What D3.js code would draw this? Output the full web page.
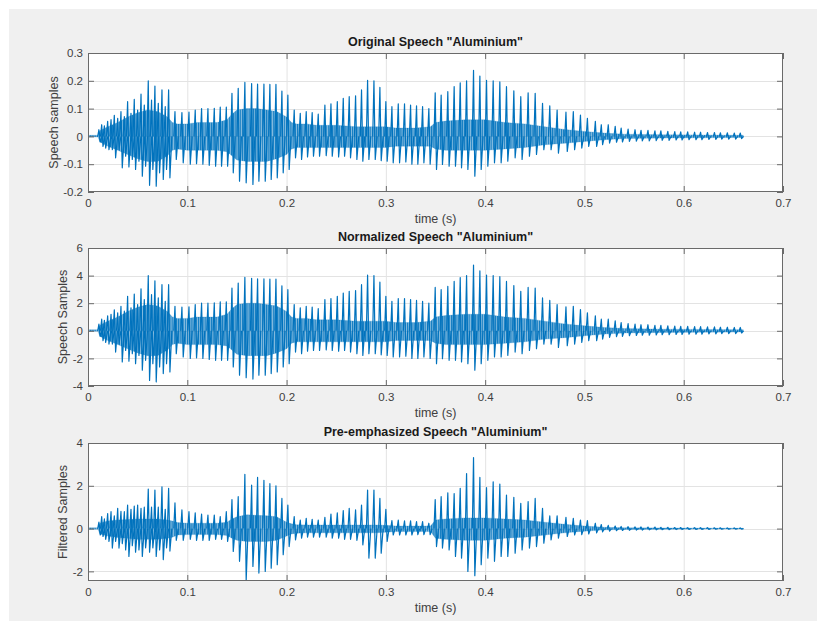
<!DOCTYPE html>
<html><head><meta charset="utf-8">
<script src="https://cdn.jsdelivr.net/npm/d3@7"></script>
<style>body{margin:0;background:#fff;} svg{display:block;font-family:"Liberation Sans",Arial,Helvetica,sans-serif;}</style>
</head><body><svg id="c" width="817" height="621"></svg>
<script>
// ---------------- DATA ----------------
const xTicks = [0, 0.1, 0.2, 0.3, 0.4, 0.5, 0.6, 0.7];
const titles = ['Original Speech "Aluminium"', 'Normalized Speech "Aluminium"', 'Pre-emphasized Speech "Aluminium"'];
const yLabels = ['Speech samples', 'Speech Samples', 'Filtered Samples'];
const xLabel = 'time (s)';
const yTicks1 = [-0.2, -0.1, 0, 0.1, 0.2, 0.3];
const yTicks2 = [-4, -2, 0, 2, 4, 6];
const yTicks3 = [-2, 0, 2, 4];
const yDomain1 = [-0.2, 0.3];
const yDomain2 = [-4, 6];
const yDomain3 = [-2.45, 4];

// pitch pulse times (s)
const pulseTimes = [
0.011,0.0138,0.0165,0.0198,0.0232,0.0265,0.0299,0.0332,0.0366,0.0399,
0.0433,0.0466,0.05,0.0534,0.0567,0.0607,0.064,0.0674,0.0708,0.0745,
0.0778,0.0812,0.0876,0.0946,0.1017,0.108,0.1144,0.1208,0.1272,0.1332,
0.1393,0.145,0.1513,0.158,0.1648,0.1708,0.1772,0.1832,0.1893,0.1953,
0.2013,0.2077,0.2138,0.2198,0.2258,0.2319,0.2386,0.2447,0.2511,0.2571,
0.2631,0.2695,0.2755,0.2816,0.288,0.294,0.300,0.3061,0.3125,0.3188,
0.3249,0.3309,0.337,0.3433,0.3497,0.3557,0.3624,0.3688,0.3749,0.3813,
0.3883,0.3947,0.4014,0.4081,0.4148,0.4215,0.4289,0.4359,0.4433,0.4504,
0.4578,0.4651,0.4725,0.4814,0.4888,0.496,0.503,0.511,0.517,0.524,
0.531,0.537,0.544,0.551,0.557,0.564,0.571,0.577,0.584,0.591,
0.597,0.604,0.611,0.617,0.624,0.631,0.637,0.644,0.651,0.657];

// original speech: peak values per pulse
const peakMax1 = [
0.024,0.042,0.038,0.054,0.060,0.076,0.065,0.089,0.071,0.125,
0.083,0.133,0.095,0.152,0.113,0.200,0.131,0.181,0.119,0.167,
0.107,0.167,0.089,0.086,0.087,0.095,0.100,0.100,0.101,0.105,
0.105,0.155,0.173,0.194,0.190,0.188,0.188,0.187,0.187,0.163,
0.149,0.095,0.083,0.089,0.086,0.080,0.113,0.117,0.125,0.137,
0.143,0.146,0.167,0.202,0.200,0.176,0.125,0.107,0.117,0.117,
0.113,0.110,0.107,0.100,0.157,0.149,0.161,0.179,0.193,0.200,
0.238,0.217,0.202,0.200,0.196,0.179,0.164,0.143,0.157,0.155,
0.119,0.110,0.095,0.087,0.089,0.077,0.065,0.054,0.042,0.042,
0.036,0.030,0.026,0.024,0.022,0.022,0.020,0.020,0.018,0.017,
0.016,0.016,0.015,0.015,0.014,0.014,0.013,0.013,0.012,0.012];
const peakMin1 = [
-0.020,-0.036,-0.042,-0.048,-0.048,-0.077,-0.048,-0.113,-0.071,-0.110,
-0.083,-0.119,-0.089,-0.143,-0.107,-0.176,-0.119,-0.179,-0.131,-0.155,
-0.119,-0.149,-0.083,-0.095,-0.100,-0.098,-0.100,-0.104,-0.107,-0.107,
-0.107,-0.131,-0.161,-0.167,-0.173,-0.161,-0.161,-0.155,-0.149,-0.131,
-0.119,-0.077,-0.083,-0.074,-0.071,-0.071,-0.069,-0.071,-0.074,-0.071,
-0.077,-0.083,-0.089,-0.083,-0.083,-0.087,-0.089,-0.095,-0.095,-0.092,
-0.100,-0.100,-0.095,-0.100,-0.119,-0.101,-0.107,-0.107,-0.113,-0.119,
-0.143,-0.119,-0.107,-0.095,-0.095,-0.089,-0.077,-0.083,-0.071,-0.065,
-0.048,-0.048,-0.060,-0.054,-0.048,-0.042,-0.036,-0.036,-0.030,-0.024,
-0.021,-0.020,-0.018,-0.017,-0.016,-0.016,-0.015,-0.014,-0.014,-0.013,
-0.013,-0.012,-0.012,-0.012,-0.011,-0.011,-0.010,-0.010,-0.010,-0.008];

// normalized speech
const peakMax2 = [
0.48,0.84,0.76,1.08,1.20,1.52,1.30,1.78,1.42,2.50,
1.66,2.66,1.90,3.04,2.26,4.00,2.62,3.62,2.38,3.34,
2.14,3.34,1.78,1.72,1.74,1.90,2.00,2.00,2.02,2.10,
2.10,3.10,3.46,3.88,3.80,3.76,3.76,3.74,3.74,3.26,
2.98,1.90,1.66,1.78,1.72,1.60,2.26,2.34,2.50,2.74,
2.86,2.92,3.34,4.04,4.00,3.52,2.50,2.14,2.34,2.34,
2.26,2.20,2.14,2.00,3.14,2.98,3.22,3.58,3.86,4.00,
4.76,4.34,4.04,4.00,3.92,3.58,3.28,2.86,3.14,3.10,
2.38,2.20,1.90,1.74,1.78,1.54,1.30,1.08,0.84,0.84,
0.72,0.60,0.52,0.48,0.44,0.44,0.40,0.40,0.36,0.34,
0.32,0.32,0.30,0.30,0.28,0.28,0.26,0.26,0.24,0.24];
const peakMin2 = [
-0.40,-0.72,-0.84,-0.96,-0.96,-1.54,-0.96,-2.26,-1.42,-2.20,
-1.66,-2.38,-1.78,-2.86,-2.14,-3.60,-2.38,-3.70,-2.62,-3.10,
-2.38,-2.98,-1.66,-1.90,-2.00,-1.96,-2.00,-2.08,-2.14,-2.14,
-2.14,-2.62,-3.22,-3.40,-3.50,-3.22,-3.22,-3.10,-2.98,-2.62,
-2.38,-1.54,-1.66,-1.48,-1.42,-1.42,-1.38,-1.42,-1.48,-1.42,
-1.54,-1.66,-1.78,-1.66,-1.66,-1.74,-1.78,-1.90,-1.90,-1.84,
-2.00,-2.00,-1.90,-2.00,-2.38,-2.02,-2.14,-2.14,-2.26,-2.38,
-2.86,-2.38,-2.14,-1.90,-1.90,-1.78,-1.54,-1.66,-1.42,-1.30,
-0.96,-0.96,-1.20,-1.08,-0.96,-0.84,-0.72,-0.72,-0.60,-0.48,
-0.42,-0.40,-0.36,-0.34,-0.32,-0.32,-0.30,-0.28,-0.28,-0.26,
-0.26,-0.24,-0.24,-0.24,-0.22,-0.22,-0.20,-0.20,-0.20,-0.16];

// pre-emphasized speech
const peakMax3 = [
0.30,0.56,0.45,0.70,0.79,0.60,0.95,0.80,0.79,1.10,
0.90,1.05,1.10,0.95,1.00,1.85,1.00,1.80,1.00,1.95,
0.90,1.88,1.20,0.87,0.79,0.74,0.68,0.63,0.63,0.56,
0.79,1.36,1.49,2.54,2.03,2.39,2.26,2.10,2.00,1.41,
1.10,0.56,0.40,0.48,0.43,0.40,0.53,0.68,0.74,0.84,
0.95,0.87,1.10,1.80,1.80,1.41,0.90,0.37,0.40,0.36,
0.36,0.33,0.33,0.25,1.36,1.49,1.67,1.64,1.88,2.57,
3.32,2.39,1.91,2.19,2.08,1.57,1.46,1.18,1.26,1.41,
0.95,0.59,0.60,0.53,0.48,0.40,0.37,0.25,0.19,0.15,
0.12,0.10,0.09,0.08,0.08,0.07,0.07,0.06,0.06,0.05,
0.05,0.045,0.045,0.04,0.04,0.035,0.035,0.03,0.03,0.03];
const peakMin3 = [
-0.30,-0.37,-0.50,-0.60,-0.91,-0.60,-0.91,-0.70,-1.00,-1.30,
-0.80,-1.10,-1.00,-1.30,-0.90,-1.10,-0.90,-1.30,-1.00,-1.45,
-0.90,-1.05,-0.55,-0.55,-0.50,-0.55,-0.55,-0.55,-0.50,-0.50,
-0.60,-1.07,-1.53,-2.44,-1.77,-2.08,-2.00,-1.85,-1.69,-1.22,
-0.84,-0.53,-0.45,-0.40,-0.40,-0.40,-0.40,-0.45,-0.45,-0.50,
-0.50,-0.55,-0.76,-1.38,-1.38,-1.15,-0.60,-0.30,-0.30,-0.30,
-0.30,-0.28,-0.28,-0.28,-0.84,-0.91,-1.00,-1.30,-1.38,-2.00,
-2.20,-1.69,-1.38,-1.53,-1.30,-1.30,-1.15,-1.00,-0.91,-0.84,
-0.68,-0.53,-0.45,-0.37,-0.30,-0.28,-0.25,-0.20,-0.15,-0.12,
-0.10,-0.09,-0.08,-0.07,-0.07,-0.06,-0.06,-0.05,-0.05,-0.045,
-0.045,-0.04,-0.04,-0.035,-0.035,-0.03,-0.03,-0.03,-0.025,-0.025];

// dense inner band of the waveform (between pulses)
const bandTimes = [
0,0.010,0.012,0.02,0.03,0.04,0.05,0.06,0.07,0.08,
0.085,0.09,0.10,0.11,0.12,0.13,0.14,0.145,0.15,0.16,
0.17,0.18,0.19,0.20,0.205,0.21,0.22,0.23,0.25,0.27,
0.29,0.30,0.31,0.33,0.345,0.35,0.36,0.38,0.40,0.42,
0.44,0.46,0.48,0.50,0.52,0.54,0.58,0.62,0.66];
const bandHi1 = [
0.004,0.004,0.02,0.035,0.05,0.07,0.085,0.095,0.09,0.07,
0.05,0.045,0.045,0.05,0.05,0.05,0.06,0.08,0.095,0.10,
0.10,0.095,0.09,0.07,0.05,0.045,0.045,0.04,0.04,0.035,
0.035,0.035,0.03,0.03,0.035,0.05,0.055,0.06,0.06,0.05,
0.045,0.035,0.025,0.018,0.012,0.008,0.006,0.005,0.004];
const bandLo1 = [
-0.002,-0.002,-0.02,-0.035,-0.05,-0.065,-0.08,-0.09,-0.09,-0.07,
-0.05,-0.045,-0.05,-0.05,-0.05,-0.05,-0.055,-0.07,-0.085,-0.09,
-0.09,-0.09,-0.08,-0.065,-0.045,-0.04,-0.04,-0.04,-0.04,-0.04,
-0.04,-0.04,-0.035,-0.035,-0.035,-0.045,-0.05,-0.05,-0.05,-0.045,
-0.04,-0.03,-0.025,-0.018,-0.012,-0.008,-0.006,-0.005,-0.004];
const bandHi2 = [
0.08,0.08,0.4,0.7,1.0,1.4,1.7,1.9,1.8,1.4,
1.0,0.9,0.9,1.0,1.0,1.0,1.2,1.6,1.9,2.0,
2.0,1.9,1.8,1.4,1.0,0.9,0.9,0.8,0.8,0.7,
0.7,0.7,0.6,0.6,0.7,1.0,1.1,1.2,1.2,1.0,
0.9,0.7,0.5,0.36,0.24,0.16,0.12,0.1,0.08];
const bandLo2 = [
-0.04,-0.04,-0.4,-0.7,-1.0,-1.3,-1.6,-1.8,-1.8,-1.4,
-1.0,-0.9,-1.0,-1.0,-1.0,-1.0,-1.1,-1.4,-1.7,-1.8,
-1.8,-1.8,-1.6,-1.3,-0.9,-0.8,-0.8,-0.8,-0.8,-0.8,
-0.8,-0.8,-0.7,-0.7,-0.7,-0.9,-1.0,-1.0,-1.0,-0.9,
-0.8,-0.6,-0.5,-0.36,-0.24,-0.16,-0.12,-0.1,-0.08];
const bandHi3 = [
0.04,0.04,0.25,0.35,0.40,0.42,0.45,0.45,0.45,0.40,
0.35,0.28,0.25,0.25,0.25,0.25,0.30,0.45,0.55,0.65,
0.62,0.60,0.55,0.30,0.22,0.18,0.17,0.17,0.17,0.17,
0.17,0.15,0.12,0.12,0.12,0.40,0.45,0.50,0.50,0.45,
0.40,0.30,0.20,0.12,0.06,0.04,0.03,0.02,0.015];
const bandLo3 = [
-0.03,-0.03,-0.25,-0.35,-0.42,-0.45,-0.50,-0.50,-0.50,-0.45,
-0.40,-0.30,-0.28,-0.28,-0.28,-0.28,-0.32,-0.45,-0.55,-0.60,
-0.60,-0.60,-0.55,-0.35,-0.25,-0.22,-0.20,-0.20,-0.20,-0.20,
-0.20,-0.17,-0.14,-0.14,-0.14,-0.45,-0.50,-0.55,-0.55,-0.45,
-0.40,-0.30,-0.20,-0.12,-0.06,-0.04,-0.03,-0.02,-0.015];

// ---------------- DRAWING ----------------
const svg = d3.select('#c');
const W = 817, H = 621;
const lineColor = '#0072BD';
const axisColor = '#6a6a6a';
const gridColor = '#e3e3e3';
const textColor = '#404040';

// hatch texture for the dense part of the waveform
const defs = svg.append('defs');
const pat = defs.append('pattern').attr('id', 'dense').attr('patternUnits', 'userSpaceOnUse')
  .attr('width', 2.2).attr('height', 10);
pat.append('rect').attr('width', 2.2).attr('height', 10).attr('fill', lineColor).attr('fill-opacity', 0.45);
pat.append('rect').attr('width', 1.1).attr('height', 10).attr('fill', lineColor).attr('fill-opacity', 0.9);

svg.append('rect').attr('x', 0).attr('y', 0).attr('width', W).attr('height', H).attr('fill', '#ffffff');
svg.append('rect').attr('x', 9).attr('y', 9).attr('width', W - 9).attr('height', H - 9).attr('fill', '#f0f0f0');

const x = d3.scaleLinear().domain([0, 0.7]).range([88, 783]);

const panels = [
  {top: 53, bottom: 192, dom: yDomain1, ticks: yTicks1, mx: peakMax1, mn: peakMin1, hi: bandHi1, lo: bandLo1, ylx: 57.5},
  {top: 248, bottom: 386, dom: yDomain2, ticks: yTicks2, mx: peakMax2, mn: peakMin2, hi: bandHi2, lo: bandLo2, ylx: 66.5},
  {top: 443, bottom: 581, dom: yDomain3, ticks: yTicks3, mx: peakMax3, mn: peakMin3, hi: bandHi3, lo: bandLo3, ylx: 66.5}
];

panels.forEach((p, i) => {
  const y = d3.scaleLinear().domain(p.dom).range([p.bottom, p.top]);
  const g = svg.append('g');
  const x0 = x.range()[0], x1 = x.range()[1];

  g.append('rect').attr('x', x0).attr('y', p.top).attr('width', x1 - x0).attr('height', p.bottom - p.top).attr('fill', '#fff');

  // grid
  g.selectAll('.vg').data(xTicks.slice(1, -1)).enter().append('line')
    .attr('x1', d => x(d) + 0.5).attr('x2', d => x(d) + 0.5).attr('y1', p.top).attr('y2', p.bottom)
    .attr('stroke', gridColor).attr('stroke-width', 1);
  g.selectAll('.hg').data(p.ticks.filter(t => y(t) > p.top + 1 && y(t) < p.bottom - 1)).enter().append('line')
    .attr('y1', d => Math.round(y(d)) + 0.5).attr('y2', d => Math.round(y(d)) + 0.5).attr('x1', x0).attr('x2', x1)
    .attr('stroke', gridColor).attr('stroke-width', 1);

  const clipId = 'clip' + i;
  svg.append('clipPath').attr('id', clipId).append('rect')
    .attr('x', x0).attr('y', p.top).attr('width', x1 - x0).attr('height', p.bottom - p.top);
  const data = g.append('g').attr('clip-path', `url(#${clipId})`);

  // dense band
  const band = bandTimes.map((t, k) => ({t, hi: p.hi[k], lo: p.lo[k]}));
  data.append('path').datum(band)
    .attr('d', d3.area().x(d => x(d.t)).y0(d => y(d.lo)).y1(d => y(d.hi)))
    .attr('fill', 'url(#dense)')
    .attr('stroke', lineColor).attr('stroke-width', 0.6).attr('stroke-opacity', 0.35);

  // pulses
  const pulses = pulseTimes.map((t, k) => ({t, mx: p.mx[k], mn: p.mn[k]}));
  const path = d3.path();
  pulses.forEach(d => {
    const px = x(d.t);
    path.moveTo(px - 1.2, y(0));
    path.lineTo(px, y(d.mx));
    path.lineTo(px + 1.3, y(d.mn));
    path.lineTo(px + 3.2, y(0));
  });
  data.append('path').attr('d', path.toString())
    .attr('fill', 'none').attr('stroke', lineColor).attr('stroke-width', 1.2).attr('stroke-linejoin', 'round');

  // axes
  const fmt = d => String(d);
  const ax = g.append('g').attr('transform', `translate(0,${p.bottom})`)
    .call(d3.axisBottom(x).tickValues(xTicks).tickSizeInner(-6).tickSizeOuter(0).tickPadding(7).tickFormat(fmt));
  const axT = g.append('g').attr('transform', `translate(0,${p.top})`)
    .call(d3.axisTop(x).tickValues(xTicks).tickSizeInner(-6).tickSizeOuter(0).tickFormat(''));
  const ay = g.append('g').attr('transform', `translate(${x0},0)`)
    .call(d3.axisLeft(y).tickValues(p.ticks).tickSizeInner(-6).tickSizeOuter(0).tickPadding(5).tickFormat(fmt));
  const ayR = g.append('g').attr('transform', `translate(${x1},0)`)
    .call(d3.axisRight(y).tickValues(p.ticks).tickSizeInner(-6).tickSizeOuter(0).tickFormat(''));
  [ax, axT, ay, ayR].forEach(a => {
    a.select('.domain').remove();
    a.selectAll('line').attr('stroke', axisColor);
    a.selectAll('text').attr('fill', textColor).style('font-size', '11.5px')
      .style('font-family', '"Liberation Sans", Arial, sans-serif');
  });

  // box
  g.append('rect').attr('x', x0 + 0.5).attr('y', p.top + 0.5).attr('width', x1 - x0 - 1).attr('height', p.bottom - p.top - 1)
    .attr('fill', 'none').attr('stroke', axisColor).attr('stroke-width', 1);

  // title
  g.append('text').attr('x', (x0 + x1) / 2).attr('y', p.top - 7).attr('text-anchor', 'middle')
    .style('font-size', '12.5px').style('font-weight', 'bold').attr('fill', '#1a1a1a').text(titles[i]);
  // x label
  g.append('text').attr('x', (x0 + x1) / 2).attr('y', p.bottom + 31).attr('text-anchor', 'middle')
    .style('font-size', '12.5px').attr('fill', textColor).text(xLabel);
  // y label
  g.append('text').attr('transform', `translate(${p.ylx},${(p.top + p.bottom) / 2}) rotate(-90)`).attr('text-anchor', 'middle')
    .style('font-size', '12.5px').attr('fill', textColor).text(yLabels[i]);
});
</script></body></html>
